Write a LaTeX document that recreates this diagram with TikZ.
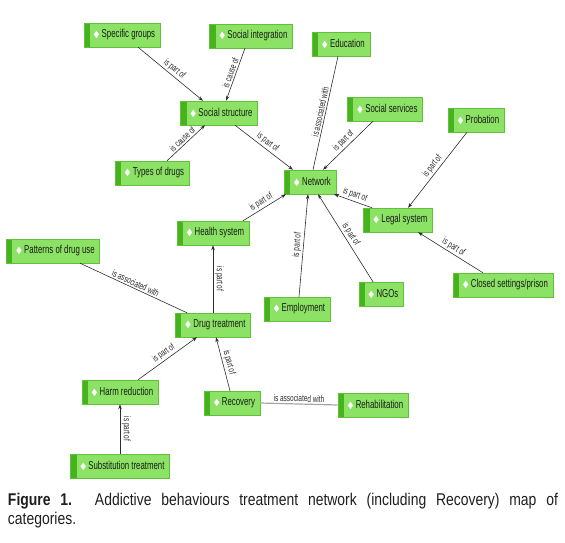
\documentclass[tikz,border=0pt]{standalone}
\usepackage{fontspec,graphicx}
\setmainfont{Liberation Sans}
\newfontfamily\boxfont[FakeStretch=0.68]{Liberation Sans}
\newfontfamily\capfont[FakeStretch=0.82]{Liberation Sans}
\newfontfamily\symfont{DejaVu Sans}
\usetikzlibrary{arrows.meta,positioning}
\definecolor{catfill}{RGB}{140,226,100}
\definecolor{catstrip}{RGB}{70,178,30}
\definecolor{catedge}{RGB}{96,192,56}
\definecolor{cattext}{RGB}{25,30,25}
\definecolor{relgray}{RGB}{45,45,45}
\definecolor{capgray}{RGB}{30,30,30}
\newcommand{\catmark}{\hspace*{5pt}{\symfont\fontsize{10}{10}\selectfont\textcolor{white}{\scalebox{0.7}[1]{◆}}}\hspace{2.5pt}}

\begin{document}
\begin{tikzpicture}[x=1pt,y=-1pt,>={Stealth[length=5pt,width=3.5pt]},
  cat/.style={draw=catedge,fill=catfill,minimum height=24pt,inner xsep=5pt,inner ysep=2pt,
    font=\boxfont\fontsize{11.5}{13}\selectfont,text=cattext,
    path picture={\fill[catstrip] (path picture bounding box.south west)
      rectangle ([xshift=6pt]path picture bounding box.north west);}},
  rel/.style={->,draw=relgray,line width=0.6pt},
  relback/.style={<-,draw=relgray,line width=0.6pt},
  assoc/.style={draw=relgray,line width=0.6pt},
  lbl/.style={font=\boxfont\fontsize{9.5}{10}\selectfont,text=relgray,sloped,above,inner sep=1.5pt}]
  \useasboundingbox (0,0) rectangle (565,543);

  % categories
  \node[cat] (sg) at (122,35) {\catmark Specific groups};
  \node[cat] (si) at (251,36) {\catmark Social integration};
  \node[cat] (ed) at (341,44) {\catmark Education};
  \node[cat] (ss) at (219,113) {\catmark Social structure};
  \node[cat] (sv) at (385,109) {\catmark Social services};
  \node[cat] (pr) at (476,120) {\catmark Probation};
  \node[cat] (td) at (152,173) {\catmark Types of drugs};
  \node[cat] (net) at (310,182) {\catmark Network};
  \node[cat] (ls) at (398,220) {\catmark Legal system};
  \node[cat] (hs) at (213,233) {\catmark Health system};
  \node[cat] (pd) at (53,251) {\catmark Patterns of drug use};
  \node[cat] (cs) at (503,285) {\catmark Closed settings/prison};
  \node[cat] (em) at (297,309) {\catmark Employment};
  \node[cat] (ngo) at (381,294) {\catmark NGOs};
  \node[cat] (dt) at (213,325) {\catmark Drug treatment};
  \node[cat] (hr) at (120,392) {\catmark Harm reduction};
  \node[cat] (rc) at (232,403) {\catmark Recovery};
  \node[cat] (rh) at (373,405) {\catmark Rehabilitation};
  \node[cat] (st) at (120,466) {\catmark Substitution treatment};

  % relations
  \draw[rel] ([xshift=16pt]sg.south) -- node[lbl] {is part of} ([xshift=-16pt]ss.north);
  \draw[rel] ([xshift=-6pt]si.south) -- node[lbl] {is cause of} ([xshift=7pt]ss.north);
  \draw[rel] ([xshift=15pt]td.north) -- node[lbl] {is cause of} ([xshift=-14pt]ss.south);
  \draw[rel] ([xshift=16pt]ss.south) -- node[lbl] {is part of} ([xshift=-17pt]net.north);
  \draw[assoc] ([xshift=-3pt]ed.south) -- node[lbl] {is associated with} ([xshift=3pt]net.north);
  \draw[rel] ([xshift=-12pt]sv.south) -- node[lbl] {is part of} ([xshift=13pt]net.north);
  \draw[rel] ([xshift=-9pt]pr.south) -- node[lbl] {is part of} ([xshift=10pt]ls.north);
  \draw[rel] ([xshift=-26pt]ls.north) -- node[lbl] {is part of} ([xshift=-2pt]net.south east);
  \draw[rel] ([xshift=-20pt]cs.north) -- node[lbl] {is part of} ([xshift=20pt]ls.south);
  \draw[rel] ([xshift=-8pt]ngo.north) -- node[lbl] {is part of} ([xshift=8pt]net.south);
  \draw[rel] ([xshift=2pt]em.north) -- node[lbl] {is part of} ([xshift=-2pt]net.south);
  \draw[rel] ([xshift=30pt]hs.north) -- node[lbl] {is part of} ([xshift=-24pt]net.south);
  \draw[relback] (hs.south) -- node[lbl] {is part of} (dt.north);
  \draw[assoc] ([xshift=27pt]pd.south) -- node[lbl] {is associated with} ([xshift=-26pt]dt.north);
  \draw[rel] ([xshift=18pt]hr.north) -- node[lbl] {is part of} ([xshift=-16pt]dt.south);
  \draw[relback] ([xshift=3pt]dt.south) -- node[lbl] {is part of} ([xshift=-2pt]rc.north);
  \draw[assoc,draw=gray!70,line width=1.2pt] (rc.east) -- node[lbl] {is associated with} (rh.west);
  \draw[relback] (hr.south) -- node[lbl] {is part of} (st.north);

  % caption
  \node[text width=550pt,align=justify,text=capgray,inner sep=0pt,
        font=\capfont\fontsize{17}{19}\selectfont] (cap) at (283,511)
    {\textbf{Figure 1.} Addictive behaviours treatment network (including Recovery) map of\linebreak categories.};
\end{tikzpicture}
\end{document}
